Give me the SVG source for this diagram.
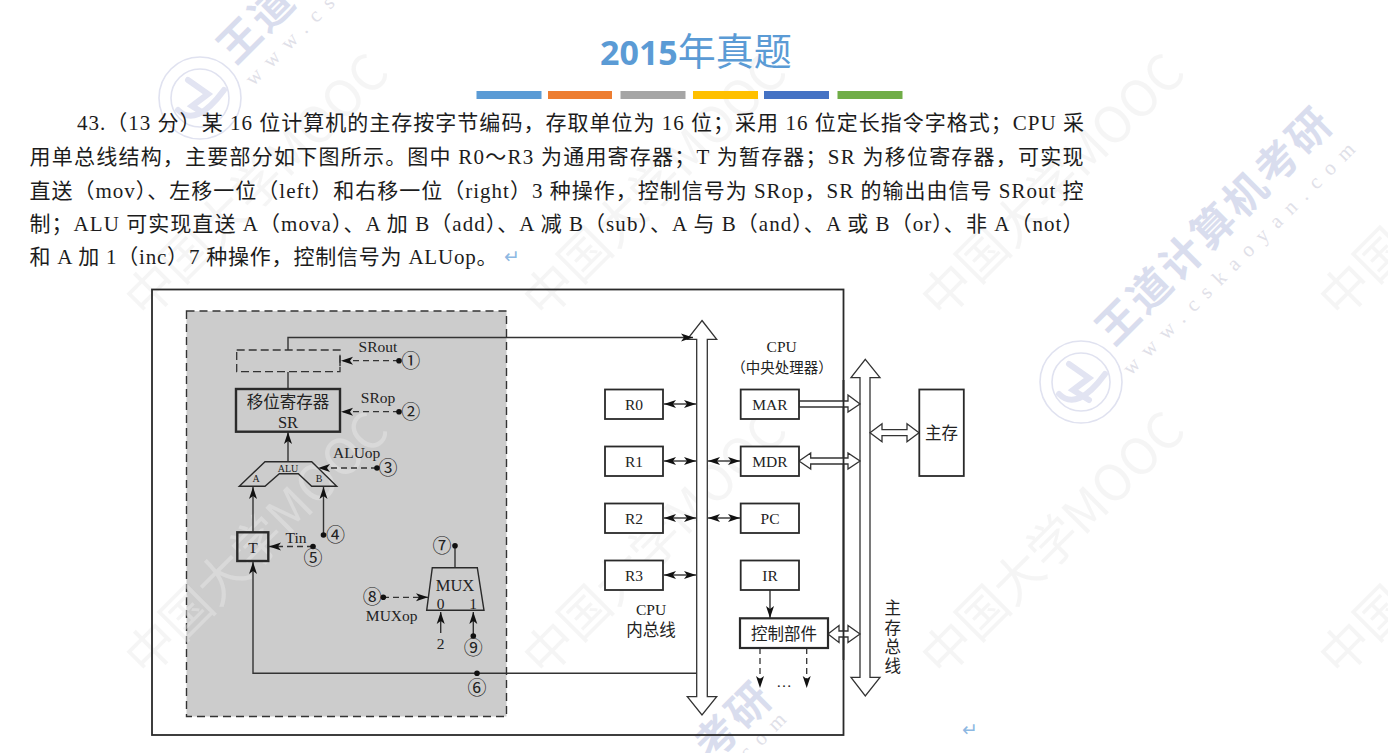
<svg xmlns="http://www.w3.org/2000/svg" xmlns:xlink="http://www.w3.org/1999/xlink" width="1388" height="753" viewBox="0 0 1388 753">
<style>
text{font-family:"Liberation Serif","Noto Sans CJK SC",serif;fill:#222}
.body{font-size:21px;fill:#1c1c1c}
.l{font-size:15.5px;text-anchor:middle}
.c{font-size:16.5px;text-anchor:middle}
.num{font-family:"Noto Sans CJK SC",sans-serif;font-size:19px;text-anchor:middle;fill:#222}
.box{fill:#fff;stroke:#2a2a2a;stroke-width:1.8}
.thick{fill:none;stroke:#2a2a2a;stroke-width:2.4}
.ln{fill:none;stroke:#333;stroke-width:1.4}
.dash{fill:none;stroke:#333;stroke-width:1.3;stroke-dasharray:6 4}
.hollow{fill:#fff;stroke:#333;stroke-width:1.3}
.dot{fill:#111}
.wm1{font-family:"Noto Sans CJK SC",sans-serif;font-size:50px;fill:#e8e8e8;fill-opacity:.45;text-anchor:middle}
.wm2{font-family:"Noto Sans CJK SC",sans-serif;font-size:42px;font-weight:700;fill:#d9ddee;text-anchor:middle;letter-spacing:3px}
.wm3{font-family:"Liberation Serif",serif;font-size:21px;fill:#dfe0e8;text-anchor:middle;letter-spacing:10px}
.seal{fill:none;stroke:#e0e2f0;stroke-width:1.6}
.sw{fill:none;stroke:#e2e4f2;stroke-width:6;stroke-linecap:round}
.ret{font-family:"DejaVu Sans",sans-serif;font-size:19px;fill:#8db8e2}
</style>
<defs>
<marker id="a" markerUnits="userSpaceOnUse" markerWidth="13" markerHeight="10" refX="12" refY="5" orient="auto-start-reverse"><path d="M0,1 L12,5 L0,9 L3,5 Z" fill="#111"/></marker>
<g id="mooc"><text class="wm1">中国大学MOOC</text></g>
<g id="sealmark"><circle class="seal" r="41"/><circle class="seal" r="29" stroke-width="1"/><path class="sw" d="M-12,-18 L8,-4 L-8,8 L8,18"/><path class="sw" d="M-22,12 Q-4,30 24,-8"/></g>
</defs>
<rect width="1388" height="753" fill="#fff"/>
<rect x="186.500" y="311" width="320" height="405.500" fill="#ccc" stroke="#333" stroke-width="1.400" stroke-dasharray="8 5"/>
<g id="watermarks">
<use xlink:href="#mooc" transform="translate(269,556) rotate(-45)"/>
<use xlink:href="#mooc" transform="translate(667,556) rotate(-45)"/>
<use xlink:href="#mooc" transform="translate(1065,556) rotate(-45)"/>
<use xlink:href="#mooc" transform="translate(1463,556) rotate(-45)"/>
<use xlink:href="#mooc" transform="translate(269,198) rotate(-45)"/>
<use xlink:href="#mooc" transform="translate(667,198) rotate(-45)"/>
<use xlink:href="#mooc" transform="translate(1065,198) rotate(-45)"/>
<use xlink:href="#mooc" transform="translate(1463,198) rotate(-45)"/>
<text class="wm2" transform="translate(1225,236) rotate(-45)">王道计算机考研</text>
<text class="wm3" transform="translate(1247,260) rotate(-45)">www.cskaoyan.com</text>
<use xlink:href="#sealmark" transform="translate(1081,382)"/>
<text class="wm2" transform="translate(267,34) rotate(-45)">王道</text>
<text class="wm3" transform="translate(298,42) rotate(-45)">www.cs</text>
<use xlink:href="#sealmark" transform="translate(200,98)"/>
<text class="wm2" transform="translate(744,731) rotate(-45)">考研</text>
<text class="wm3" transform="translate(771,737) rotate(-45)">com</text>
</g>
<g id="title">
<text x="600" y="65" style="font-family:'Noto Sans','Noto Sans CJK SC',sans-serif;fill:#5b9bd5"><tspan font-size="34" font-weight="700">2015</tspan><tspan font-size="38">年真题</tspan></text>
<rect x="476.500" y="91" width="65" height="8" fill="#5b9bd5"/>
<rect x="548" y="91" width="64" height="8" fill="#ed7d31"/>
<rect x="620.500" y="91" width="65" height="8" fill="#a5a5a5"/>
<rect x="693" y="91" width="65" height="8" fill="#ffc000"/>
<rect x="764" y="91" width="65" height="8" fill="#4472c4"/>
<rect x="837.500" y="91" width="65" height="8" fill="#70ad47"/>
</g>
<g id="question">
<text class="body" x="77" y="130" textLength="1007">43.（13 分）某 16 位计算机的主存按字节编码，存取单位为 16 位；采用 16 位定长指令字格式；CPU 采</text>
<text class="body" x="29.500" y="164" textLength="1054">用单总线结构，主要部分如下图所示。图中 R0～R3 为通用寄存器；T 为暂存器；SR 为移位寄存器，可实现</text>
<text class="body" x="29.500" y="197.500" textLength="1054">直送（mov）、左移一位（left）和右移一位（right）3 种操作，控制信号为 SRop，SR 的输出由信号 SRout 控</text>
<text class="body" x="29.500" y="231" textLength="1054">制；ALU 可实现直送 A（mova）、A 加 B（add）、A 减 B（sub）、A 与 B（and）、A 或 B（or）、非 A（not）</text>
<text class="body" x="29.500" y="264" textLength="468">和 A 加 1（inc）7 种操作，控制信号为 ALUop。</text>
<text class="ret" x="504" y="263">↵</text>
<text class="ret" x="962" y="736">↵</text>
</g>
<rect id="cpu-frame" x="152" y="289.500" width="691.500" height="445.500" fill="none" stroke="#2a2a2a" stroke-width="1.800"/>
<g id="buses">
<polygon class="hollow" points="702,320.500 716.700,339.300 707.300,339.300 707.300,696.700 716.700,696.700 702,715 687.300,696.700 696.700,696.700 696.700,339.300 687.300,339.300"/>
<polygon class="hollow" points="865.300,359.300 880,377.700 870,377.700 870,677.300 880,677.300 865.300,696 851,677.300 860,677.300 860,377.700 851,377.700"/>
</g>
<g id="connectors">
<path class="ln" d="M288,350 V337.500 H693" marker-end="url(#a)"/>
<path class="ln" d="M288,372 V389"/>
<path class="ln" d="M288,462 V432" marker-end="url(#a)"/>
<path class="ln" d="M253,532 V487" marker-end="url(#a)"/>
<path class="ln" d="M323.500,535 V487" marker-end="url(#a)"/>
<path class="ln" d="M696.500,673.300 H253 V562" marker-end="url(#a)"/>
<path class="ln" d="M340,356 V366"/>
<path class="dash" d="M399,360.700 H341" marker-end="url(#a)"/>
<path class="dash" d="M399,411.700 H341" marker-end="url(#a)"/>
<path class="dash" d="M377,468 H318" marker-end="url(#a)"/>
<path class="dash" d="M313,546.500 H269" marker-end="url(#a)"/>
<path class="dash" d="M383,597.300 H428" marker-end="url(#a)"/>
<path class="ln" d="M455,568 V546"/>
<path class="ln" d="M440.700,633 V612" marker-end="url(#a)"/>
<path class="ln" d="M473.300,636 V612" marker-end="url(#a)"/>
<path class="ln" d="M664,404 H696" marker-start="url(#a)" marker-end="url(#a)"/>
<path class="ln" d="M664,461 H696" marker-start="url(#a)" marker-end="url(#a)"/>
<path class="ln" d="M664,518 H696" marker-start="url(#a)" marker-end="url(#a)"/>
<path class="ln" d="M664,575 H696" marker-start="url(#a)" marker-end="url(#a)"/>
<path class="ln" d="M708,461 H740" marker-start="url(#a)" marker-end="url(#a)"/>
<path class="ln" d="M708,518 H740" marker-start="url(#a)" marker-end="url(#a)"/>
<path class="ln" d="M770,590 V618" marker-end="url(#a)"/>
<path class="dash" d="M760,648 V688" marker-end="url(#a)"/>
<path class="dash" d="M806.700,648 V688" marker-end="url(#a)"/>
<polygon class="hollow" points="799,401 848,401 848,395 860,404 848,412 848,407 799,407"/>
<polygon class="hollow" points="799,461 810.700,453 810.700,458 848,458 848,453 860,461 848,469 848,464 810.700,464 810.700,469"/>
<polygon class="hollow" points="870,432.700 882,423.700 882,429.700 907,429.700 907,423.700 919,432.700 907,441.700 907,435.700 882,435.700 882,441.700"/>
<polygon class="hollow" points="828,634 839,625.500 839,631 848,631 848,625.500 860,634 848,642.500 848,637 839,637 839,642.500"/>
<path d="M843.500,380 V660" fill="none" stroke="#2a2a2a" stroke-width="1.800"/>
<circle class="dot" cx="399" cy="360.700" r="2.800"/>
<circle class="dot" cx="399" cy="411.700" r="2.800"/>
<circle class="dot" cx="377" cy="468" r="2.800"/>
<circle class="dot" cx="323.500" cy="535" r="2.800"/>
<circle class="dot" cx="313" cy="546.500" r="2.800"/>
<circle class="dot" cx="455" cy="545.700" r="2.800"/>
<circle class="dot" cx="383.300" cy="597.300" r="2.800"/>
<circle class="dot" cx="473.300" cy="636" r="2.800"/>
<circle class="dot" cx="477" cy="673.300" r="2.800"/>
</g>
<g id="srout-gate"><rect x="236.700" y="350" width="103.300" height="21.700" fill="none" stroke="#333" stroke-width="1.300" stroke-dasharray="8 4"/><text class="l" x="378" y="351.700">SRout</text><text class="num" x="410.700" y="367.500">①</text></g>
<g id="sr"><rect x="236" y="389" width="104" height="42.700" class="thick"/><text class="c" x="288" y="407.700">移位寄存器</text><text class="c" x="288" y="427.700">SR</text><text class="l" x="378" y="403">SRop</text><text class="num" x="410.700" y="418.500">②</text></g>
<g id="alu"><polygon points="265,461.700 311.700,461.700 336.700,486.300 311.700,486.300 298.300,473.700 279.300,473.700 265,486.300 239.300,486.300" fill="none" stroke="#2a2a2a" stroke-width="1.400"/><text class="l" style="font-size:10px" x="288" y="472">ALU</text><text class="l" style="font-size:10px" x="256" y="482">A</text><text class="l" style="font-size:10px" x="319" y="482">B</text><text class="l" x="356.700" y="458">ALUop</text><text class="num" x="388" y="474.500">③</text></g>
<g id="t"><rect class="thick" x="237.300" y="532.300" width="31" height="28.700"/><text class="l" x="253" y="553">T</text><text class="l" x="296" y="543">Tin</text><text class="num" x="313" y="565">⑤</text><text class="num" x="335.500" y="541.500">④</text></g>
<g id="mux"><polygon points="432.300,567.700 477.300,567.700 484,610.300 426.700,610.300" fill="none" stroke="#2a2a2a" stroke-width="1.400"/><text class="c" x="455" y="591">MUX</text><text class="l" x="440.700" y="608.500">0</text><text class="l" x="473" y="608.500">1</text><text class="num" x="442" y="552.500">⑦</text><text class="num" x="372.300" y="603.500">⑧</text><text class="l" x="391.700" y="621">MUXop</text><text class="l" x="440.700" y="649">2</text><text class="num" x="473.300" y="654.500">⑨</text><text class="num" x="477" y="694.500">⑥</text></g>
<g id="r0"><rect class="box" x="605" y="389.500" width="58" height="29.500"/><text class="l" x="634" y="410">R0</text></g>
<g id="r1"><rect class="box" x="605" y="446.500" width="58" height="29.500"/><text class="l" x="634" y="467">R1</text></g>
<g id="r2"><rect class="box" x="605" y="503.500" width="58" height="29.500"/><text class="l" x="634" y="524">R2</text></g>
<g id="r3"><rect class="box" x="605" y="560.500" width="58" height="29.500"/><text class="l" x="634" y="581">R3</text></g>
<g id="mar"><rect class="box" x="740.700" y="389.500" width="58.300" height="29.500"/><text class="l" x="770" y="410">MAR</text></g>
<g id="mdr"><rect class="box" x="740.700" y="446.500" width="58.300" height="29.500"/><text class="l" x="770" y="467">MDR</text></g>
<g id="pc"><rect class="box" x="740.700" y="503.500" width="58.300" height="29.500"/><text class="l" x="770" y="524">PC</text></g>
<g id="ir"><rect class="box" x="740.700" y="560.500" width="58.300" height="29.500"/><text class="l" x="770" y="581">IR</text></g>
<g id="control"><rect x="740" y="618.300" width="88" height="29.700" fill="#fff" stroke="#2a2a2a" stroke-width="2.200"/><text class="c" x="784" y="640">控制部件</text><text class="l" x="784" y="687">…</text></g>
<g id="memory"><rect class="box" x="919.300" y="389.500" width="44.500" height="86.500" stroke-width="2"/><text class="c" x="941.500" y="438.500">主存</text></g>
<g id="labels">
<text class="l" x="781.700" y="351.700">CPU</text>
<text class="l" style="font-size:14.500px" x="782" y="372.700">（中央处理器）</text>
<text class="l" x="651" y="615">CPU</text>
<text class="c" x="651" y="636">内总线</text>
<text class="c" x="892.700" y="614">主</text>
<text class="c" x="892.700" y="634">存</text>
<text class="c" x="892.700" y="653">总</text>
<text class="c" x="892.700" y="672">线</text>
</g>
</svg>
